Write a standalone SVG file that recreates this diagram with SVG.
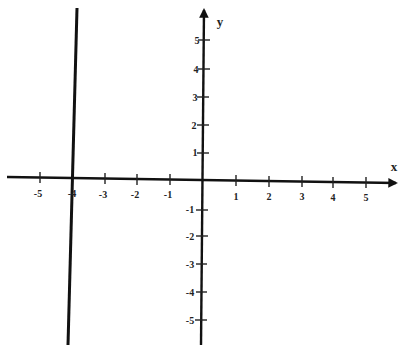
<svg xmlns="http://www.w3.org/2000/svg" width="400" height="345" viewBox="0 0 400 345">
<defs>
<style>
.ax{stroke:#111;stroke-width:2.4;fill:none}
.tk{stroke:#222;stroke-width:1.4}
.lb{font-family:"Liberation Serif",serif;font-size:10px;font-weight:bold;fill:#222;text-anchor:middle}
.al{font-size:13px}
</style>
<marker id="ar" viewBox="0 0 10 10" refX="8" refY="5" markerWidth="4" markerHeight="4" orient="auto" markerUnits="strokeWidth">
<path d="M0,0 L10,5 L0,10 z" fill="#111"/>
</marker>
</defs>
<rect width="400" height="345" fill="#fff"/>
<g id="axes">
<line class="ax" x1="7" y1="177" x2="396" y2="183" marker-end="url(#ar)"/>
<line class="ax" x1="201" y1="345" x2="204" y2="10" marker-end="url(#ar)"/>
</g>
<g id="line-x-minus4">
<line x1="77" y1="8" x2="68" y2="345" stroke="#111" stroke-width="3"/>
</g>
<g id="x-ticks" class="tk">
<line x1="40" y1="172" x2="40" y2="183"/>
<line x1="105" y1="173" x2="105" y2="184"/>
<line x1="137" y1="174" x2="137" y2="185"/>
<line x1="170" y1="174" x2="170" y2="185"/>
<line x1="236" y1="175" x2="236" y2="186"/>
<line x1="269" y1="176" x2="269" y2="187"/>
<line x1="302" y1="176" x2="302" y2="187"/>
<line x1="333" y1="177" x2="333" y2="188"/>
<line x1="366" y1="177" x2="366" y2="188"/>
</g>
<g id="y-ticks" class="tk">
<line x1="198" y1="40" x2="210" y2="40"/>
<line x1="198" y1="69" x2="210" y2="69"/>
<line x1="197" y1="97" x2="209" y2="97"/>
<line x1="197" y1="125" x2="209" y2="125"/>
<line x1="197" y1="153" x2="209" y2="153"/>
<line x1="196" y1="210" x2="208" y2="210"/>
<line x1="196" y1="236" x2="208" y2="236"/>
<line x1="196" y1="264" x2="207" y2="264"/>
<line x1="196" y1="292" x2="207" y2="292"/>
<line x1="195" y1="320" x2="207" y2="320"/>
</g>
<g id="x-labels" class="lb">
<text x="38" y="197">-5</text>
<text x="72" y="197">-4</text>
<text x="103" y="198">-3</text>
<text x="135" y="198">-2</text>
<text x="168" y="198">-1</text>
<text x="236" y="200">1</text>
<text x="269" y="200">2</text>
<text x="302" y="200">3</text>
<text x="333" y="201">4</text>
<text x="366" y="201">5</text>
<text class="al" x="394" y="171">x</text>
</g>
<g id="y-labels" class="lb">
<text x="197" y="44">5</text>
<text x="196" y="73">4</text>
<text x="195" y="101">3</text>
<text x="194" y="129">2</text>
<text x="195" y="156">1</text>
<text x="190" y="213">-1</text>
<text x="190" y="240">-2</text>
<text x="190" y="268">-3</text>
<text x="190" y="296">-4</text>
<text x="190" y="324">-5</text>
<text class="al" x="220" y="26">y</text>
</g>
</svg>
